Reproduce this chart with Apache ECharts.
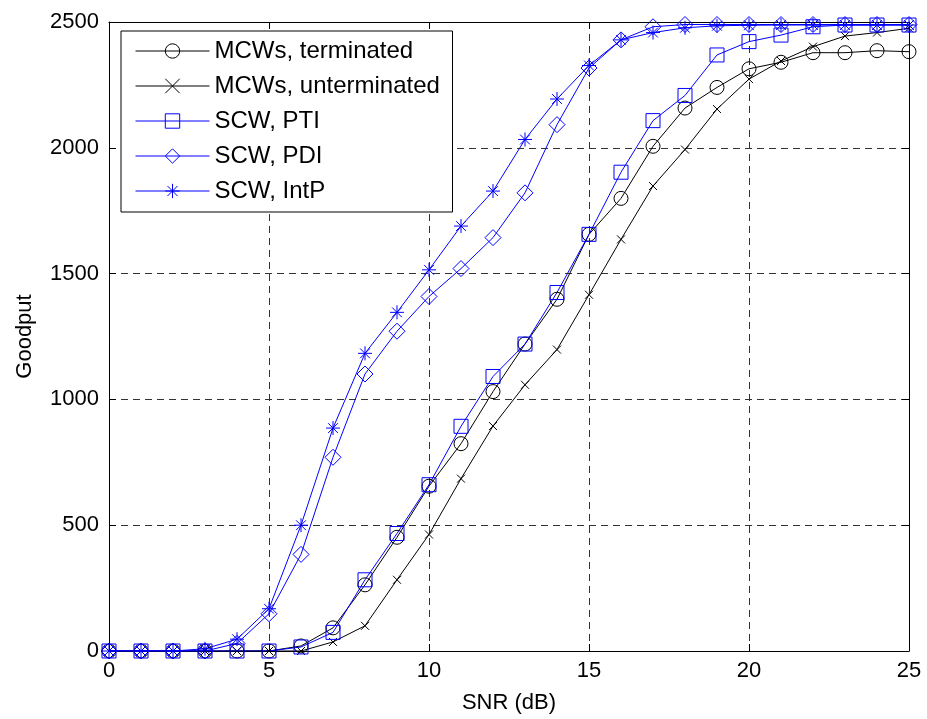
<!DOCTYPE html>
<html>
<head>
<meta charset="utf-8">
<script src="https://cdn.jsdelivr.net/npm/echarts@6/dist/echarts.min.js"></script>
<style>
    html, body { margin: 0; padding: 0; background: #fff; }
    #chart { width: 927px; height: 719px; }
</style>
</head>
<body>
<div id="chart"></div>
<script>
// data

const snr = [0, 1, 2, 3, 4, 5, 6, 7, 8, 9, 10, 11, 12, 13, 14, 15, 16, 17, 18, 19, 20, 21, 22, 23, 24, 25]

const mcwTerminated = [0, 0, 0, 0, 0, 0, 20, 92, 263, 452, 655, 824, 1031, 1220, 1398, 1656, 1799, 2006, 2158, 2240, 2314, 2340, 2378, 2378, 2386, 2382]
const mcwUnterminated = [0, 0, 0, 0, 0, 0, 0, 36, 100, 283, 463, 685, 894, 1058, 1198, 1416, 1636, 1848, 1993, 2154, 2273, 2345, 2402, 2444, 2458, 2475]
const scwPTI = [0, 0, 0, 0, 0, 0, 16, 74, 283, 467, 661, 893, 1091, 1220, 1425, 1656, 1903, 2108, 2208, 2369, 2422, 2448, 2481, 2488, 2488, 2488]
const scwPDI = [0, 0, 0, 0, 30, 148, 384, 770, 1101, 1271, 1409, 1520, 1643, 1821, 2092, 2317, 2429, 2481, 2490, 2490, 2490, 2490, 2490, 2490, 2490, 2490]
const scwIntP = [0, 0, 0, 9, 47, 168, 500, 886, 1183, 1346, 1515, 1689, 1828, 2033, 2194, 2327, 2429, 2458, 2477, 2485, 2487, 2488, 2488, 2488, 2488, 2488]

const seriesNames = ['MCWs, terminated', 'MCWs, unterminated', 'SCW, PTI', 'SCW, PDI', 'SCW, IntP']
const seriesColors = ['#000000', '#000000', '#0000ff', '#0000ff', '#0000ff']

const FONT = 'Liberation Sans, Arial, sans-serif'

// matlab style open markers
const xMark = 'path://M0 0 L10 10 M10 0 L0 10'
const starMark = 'path://M0 5 L10 5 M5 0 L5 10 M1.5 1.5 L8.5 8.5 M8.5 1.5 L1.5 8.5'
const diamondMark = 'path://M5 0 L10 5 L5 10 L0 5 Z'

function toPairs(ys) {
    return snr.map((x, i) => [x, ys[i]])
}

function makeSeries(i, ys, symbol, size) {
    let color = seriesColors[i]
    return {
        name: seriesNames[i],
        type: 'line',
        color: color,
        data: toPairs(ys),
        symbol: symbol,
        symbolSize: size,
        showAllSymbol: true,
        lineStyle: {color: color, width: 1},
        itemStyle: {color: 'transparent', borderColor: color, borderWidth: 1},
        emphasis: {disabled: true},
        animation: false
    }
}

let chart = echarts.init(document.getElementById('chart'))

const tickStyle = {show: true, inside: true, length: 7, lineStyle: {color: '#000'}}
const gridLine = {show: true, lineStyle: {color: '#333', type: [7, 5], width: 1}}

chart.setOption({
    backgroundColor: '#fff',
    animation: false,
    grid: {left: 109, right: 18, top: 22, bottom: 66},
    legend: {
        orient: 'vertical',
        left: 121,
        top: 31,
        backgroundColor: '#fff',
        borderColor: '#000',
        borderWidth: 1,
        borderRadius: 0,
        padding: [8, 8, 9, 14],
        itemWidth: 74,
        itemHeight: 18,
        itemGap: 11,
        textStyle: {fontFamily: FONT, fontSize: 24, color: '#000', lineHeight: 24, width: 230},
        data: seriesNames.map((name, i) => ({
            name: name,
            lineStyle: {color: seriesColors[i], width: 1},
            itemStyle: {color: 'transparent', borderColor: seriesColors[i], borderWidth: 1}
        }))
    },
    xAxis: [
        {
            type: 'value',
            min: 0,
            max: 25,
            interval: 5,
            name: 'SNR (dB)',
            nameLocation: 'middle',
            nameGap: 41,
            nameTextStyle: {fontFamily: FONT, fontSize: 22, color: '#000'},
            axisLine: {show: true, onZero: false, lineStyle: {color: '#000', width: 1}},
            axisTick: tickStyle,
            axisLabel: {fontFamily: FONT, fontSize: 22, color: '#000', margin: 9},
            splitLine: gridLine
        },
        {
            type: 'value',
            position: 'top',
            min: 0,
            max: 25,
            interval: 5,
            axisLine: {show: true, onZero: false, lineStyle: {color: '#000', width: 1}},
            axisTick: tickStyle,
            axisLabel: {show: false},
            splitLine: {show: false}
        }
    ],
    yAxis: [
        {
            type: 'value',
            min: 0,
            max: 2500,
            interval: 500,
            name: 'Goodput',
            nameLocation: 'middle',
            nameGap: 73,
            nameTextStyle: {fontFamily: FONT, fontSize: 22, color: '#000'},
            axisLine: {show: true, onZero: false, lineStyle: {color: '#000', width: 1}},
            axisTick: tickStyle,
            axisLabel: {fontFamily: FONT, fontSize: 22, color: '#000', margin: 10, formatter: v => String(v)},
            splitLine: gridLine
        },
        {
            type: 'value',
            position: 'right',
            min: 0,
            max: 2500,
            interval: 500,
            axisLine: {show: true, onZero: false, lineStyle: {color: '#000', width: 1}},
            axisTick: tickStyle,
            axisLabel: {show: false},
            splitLine: {show: false}
        }
    ],
    series: [
        makeSeries(0, mcwTerminated, 'circle', 14),
        makeSeries(1, mcwUnterminated, xMark, 8),
        makeSeries(2, scwPTI, 'rect', 14),
        makeSeries(3, scwPDI, diamondMark, 16),
        makeSeries(4, scwIntP, starMark, 14)
    ]
})
</script>
</body>
</html>
